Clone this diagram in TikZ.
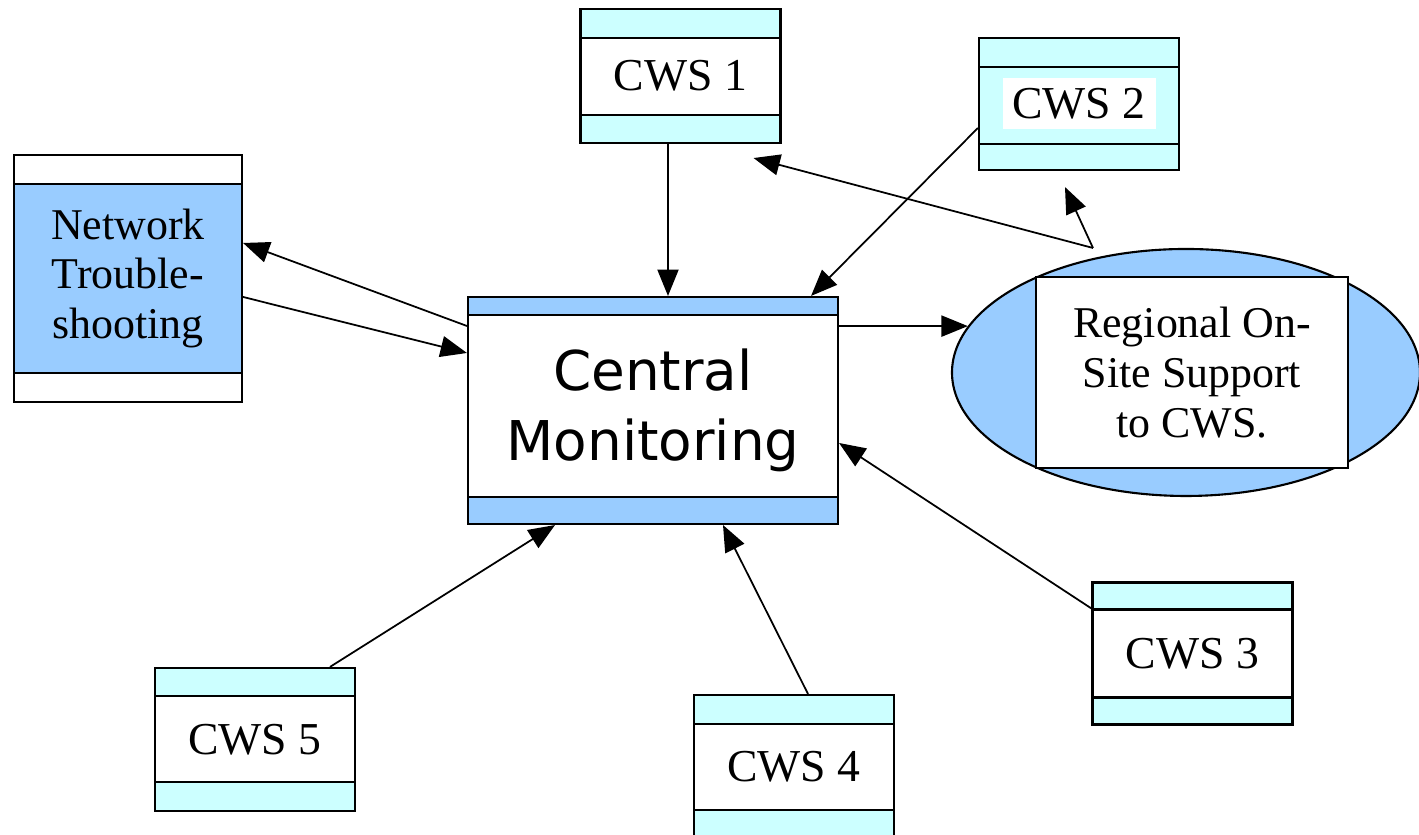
\documentclass[tikz,border=0pt]{standalone}
\usepackage{fontspec}
\setmainfont{Liberation Serif}
\newfontfamily\cmsans{DejaVu Sans}
\usetikzlibrary{shapes.geometric,arrows.meta}
\definecolor{bandcyan}{HTML}{CCFFFF}
\definecolor{bandblue}{HTML}{99CCFF}

\begin{document}
\begin{tikzpicture}[
		tribox/.style n args={4}{draw, line width=0.6pt, fill=#2, inner sep=0pt, path picture={
				\fill[#1] (path picture bounding box.north west) rectangle ([yshift=-#3]path picture bounding box.north east);
				\fill[#1] (path picture bounding box.south west) rectangle ([yshift=#4]path picture bounding box.south east);
				\draw[line width=0.6pt] ([yshift=-#3]path picture bounding box.north west) -- ([yshift=-#3]path picture bounding box.north east);
				\draw[line width=0.6pt] ([yshift=#4]path picture bounding box.south west) -- ([yshift=#4]path picture bounding box.south east);}},
		cws/.style 2 args={tribox={bandcyan}{white}{#1}{#2}, minimum width=2cm, minimum height=1.42cm, font=\fontsize{13}{15}\selectfont},
		arr/.style={-{Triangle[length=7.5pt,width=6pt]}, line width=0.5pt},
	]
		  \useasboundingbox (0,0) rectangle (14.19,8.35);
		  % workstations
		  \node[cws={2.9mm}{2.8mm}, minimum height=1.34cm] (cws1) at (6.805,7.59) {CWS 1};
		  \node[tribox={bandcyan}{bandcyan}{2.9mm}{2.6mm}, minimum width=2cm, minimum height=1.32cm] (cws2) at (10.79,7.31) {};
		  \node[fill=white, inner sep=0pt, minimum width=1.53cm, minimum height=0.51cm, font=\fontsize{13}{15}\selectfont] (cws2txt) at (cws2) {CWS 2};
		  \node[cws={2.7mm}{2.7mm}] (cws3) at (11.925,1.815) {CWS 3};
		  \node[cws={2.9mm}{2.8mm}, minimum height=1.43cm] (cws4) at (7.94,0.685) {CWS 4};
		  \node[cws={2.8mm}{2.9mm}, minimum height=1.43cm] (cws5) at (2.55,0.955) {CWS 5};
		  % centre, trouble-shooting, on-site support
		  \node[tribox={white}{bandblue}{2.9mm}{2.9mm}, minimum width=2.28cm, minimum height=2.47cm, align=center, font=\fontsize{12.5}{14.2}\selectfont] (net) at (1.28,5.565) {Network\\Trouble-\\shooting};
		  \node[tribox={bandblue}{white}{1.8mm}{2.7mm}, minimum width=3.7cm, minimum height=2.27cm, align=center, font=\cmsans\fontsize{15.6}{19.8}\selectfont] (central) at (6.53,4.245) {Central\\Monitoring};
		  \node[ellipse, draw, line width=0.6pt, fill=bandblue, inner sep=0pt, minimum width=4.68cm, minimum height=2.47cm] (reg) at (11.86,4.625) {};
		  \node[draw, line width=0.6pt, fill=white, inner sep=0pt, minimum width=3.12cm, minimum height=1.91cm, align=center, font=\fontsize{12.5}{14.2}\selectfont] (regtxt) at (11.92,4.625) {Regional On-\\Site Support\\to CWS.};
		  \coordinate (fork) at (10.93,5.87);
		  % connectors
		  \draw[arr] ([xshift=-1.25mm]cws1.south) -- ([xshift=-1.25mm]cws1.south |- central.north);
		  \draw[arr] ([yshift=-2.4mm]cws2.west) -- ([xshift=-2.8mm]central.north east);
		  \draw[arr] (fork) -- ([xshift=-2.8mm,yshift=-1.4mm]cws1.south east);
		  \draw[arr] (fork) -- ([xshift=-1.4mm,yshift=-1.6mm]cws2.south);
		  \draw[arr] (central.east |- reg.168) -- (reg.168);
		  \draw[arr] ([yshift=8.45mm]central.west) -- ([yshift=3.55mm]net.east);
		  \draw[arr] ([yshift=-1.85mm]net.east) -- ([yshift=5.75mm]central.west);
		  \draw[arr] ([yshift=4.5mm]cws3.west) -- ([yshift=-3.25mm]central.east);
		  \draw[arr] ([xshift=1.4mm]cws4.north) -- ([xshift=7mm]central.south);
		  \draw[arr] ([xshift=7.5mm]cws5.north) -- ([xshift=-9.8mm]central.south);
\end{tikzpicture}
\end{document}
